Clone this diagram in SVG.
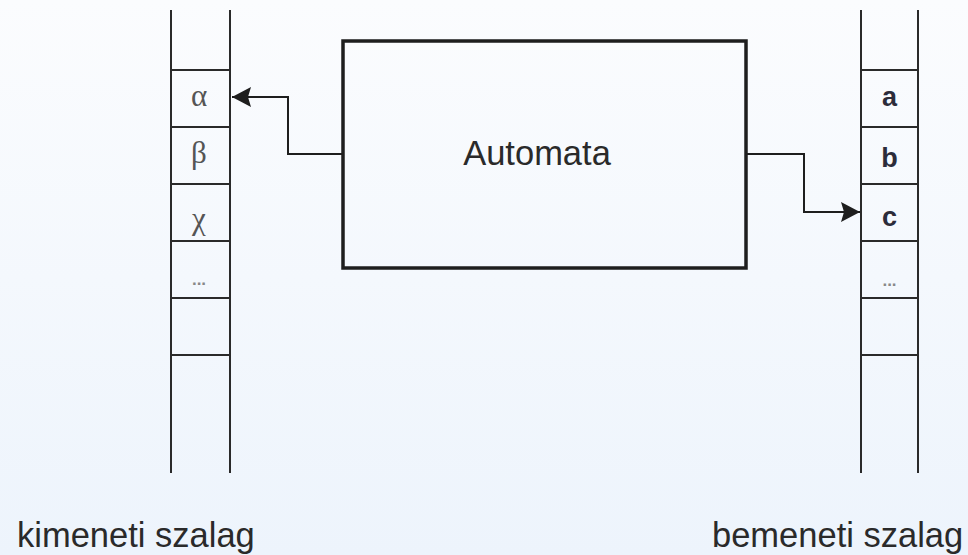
<svg xmlns="http://www.w3.org/2000/svg" width="968" height="555" viewBox="0 0 968 555">
<defs>
<linearGradient id="bg" x1="0" y1="0" x2="0" y2="1">
<stop offset="0" stop-color="#fbfcfe"/>
<stop offset="1" stop-color="#edf4fc"/>
</linearGradient>
<marker id="arr" viewBox="0 0 19 20" refX="19" refY="10" markerWidth="19" markerHeight="20" markerUnits="userSpaceOnUse" orient="auto">
<path d="M0,0 L19,10 L0,20 L3,10 Z" fill="#1e1e1e"/>
</marker>
<style>
.tape{stroke:#2a2a2a;stroke-width:2;fill:none}
.conn{stroke:#1e1e1e;stroke-width:2;fill:none}
.gk{font-family:"Liberation Serif","DejaVu Serif",serif;font-size:31px;fill:#555;text-anchor:middle}
.lt{font-family:"Liberation Sans",Arial,sans-serif;font-size:27px;font-weight:bold;fill:#2c2c3a;text-anchor:middle}
.dots{font-family:"Liberation Sans",Arial,sans-serif;font-size:17px;font-weight:bold;fill:#888;text-anchor:middle}
.lbl{font-family:"Liberation Sans",Arial,sans-serif;font-size:34.5px;fill:#2a2a2a}
</style>
</defs>
<rect width="968" height="555" fill="url(#bg)"/>
<g id="output-tape">
<path class="tape" d="M171,10 V473 M230,10 V473 M171,70 H230 M171,127 H230 M171,184 H230 M171,241 H230 M171,298 H230 M171,355 H230"/>
<text class="gk" x="199" y="106">α</text>
<text class="gk" x="199" y="163">β</text>
<text class="gk" x="199" y="229">χ</text>
<text class="dots" x="199" y="285">...</text>
</g>
<g id="input-tape">
<path class="tape" d="M861,10 V473 M918,10 V473 M861,70 H918 M861,127 H918 M861,184 H918 M861,241 H918 M861,298 H918 M861,355 H918"/>
<text class="lt" x="889.5" y="106">a</text>
<text class="lt" x="889.5" y="167">b</text>
<text class="lt" x="889.5" y="226">c</text>
<text class="dots" x="889.5" y="286">...</text>
</g>
<g id="automata">
<rect x="343" y="41" width="403" height="227" fill="none" stroke="#1e1e1e" stroke-width="3.5"/>
<text x="537" y="165" font-family="Liberation Sans, Arial, sans-serif" font-size="34.5" fill="#2a2a2a" text-anchor="middle">Automata</text>
</g>
<g id="connectors">
<path class="conn" d="M343,154 H288 V97 H232" marker-end="url(#arr)"/>
<path class="conn" d="M746,154 H804 V212 H860" marker-end="url(#arr)"/>
</g>
<g id="labels">
<text class="lbl" x="17" y="547">kimeneti szalag</text>
<text class="lbl" x="712" y="547">bemeneti szalag</text>
</g>
</svg>
